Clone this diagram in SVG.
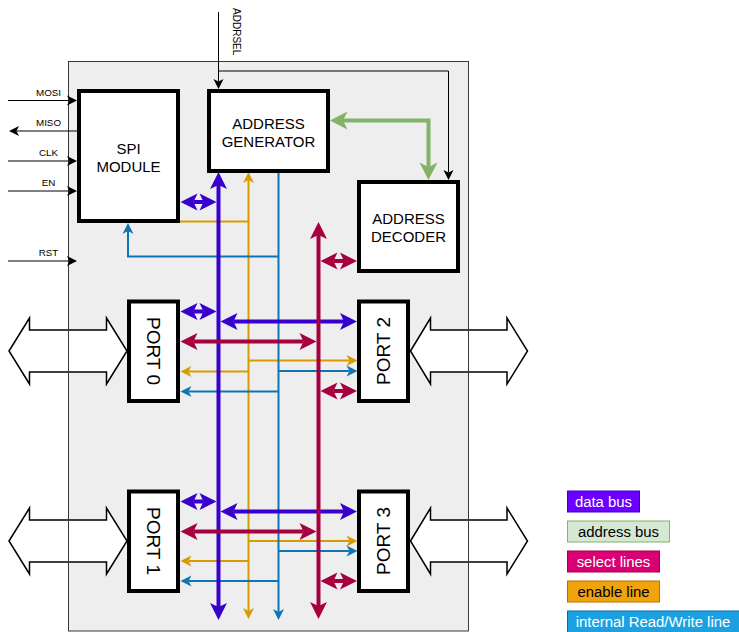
<svg xmlns="http://www.w3.org/2000/svg" width="739" height="632" viewBox="0 0 739 632">
<style>
text{font-family:"Liberation Sans",Arial,sans-serif;fill:#000}
.node{fill:#fff;stroke:#000;stroke-width:4}
.nt{font-size:15px;text-anchor:middle}
.pt{font-size:19px;text-anchor:middle}
.sm{font-size:9.8px;text-anchor:middle}
.big{fill:#fff;stroke:#000;stroke-width:1.5;stroke-linejoin:miter}
.c{fill:none}
.data{stroke:#3700CC;stroke-width:4;marker-end:url(#mP);}
.sel{stroke:#A50040;stroke-width:4;marker-end:url(#mS);}
.en{stroke:#d79b00;stroke-width:2;marker-end:url(#mO);}
.rw{stroke:#0f74b5;stroke-width:2;marker-end:url(#mB);}
.blk{stroke:#000;stroke-width:1;marker-end:url(#mK);}
.lg{font-size:14.9px;text-anchor:middle}
</style>
<defs>
<marker id="mP" markerUnits="userSpaceOnUse" orient="auto-start-reverse" overflow="visible" markerWidth="20" markerHeight="20" refX="0" refY="0"><path d="M13,0 L-4,-8.5 L0,0 L-4,8.5 Z" fill="#3700CC"/></marker>
<marker id="mS" markerUnits="userSpaceOnUse" orient="auto-start-reverse" overflow="visible" markerWidth="20" markerHeight="20" refX="0" refY="0"><path d="M13,0 L-4,-8.5 L0,0 L-4,8.5 Z" fill="#A50040"/></marker>
<marker id="mG" markerUnits="userSpaceOnUse" orient="auto-start-reverse" overflow="visible" markerWidth="20" markerHeight="20" refX="0" refY="0"><path d="M13,0 L-4.5,-9 L0,0 L-4.5,9 Z" fill="#82b366"/></marker>
<marker id="mO" markerUnits="userSpaceOnUse" orient="auto-start-reverse" overflow="visible" markerWidth="12" markerHeight="12" refX="0" refY="0"><path d="M8,0 L-3,-5.5 L0,0 L-3,5.5 Z" fill="#d79b00"/></marker>
<marker id="mB" markerUnits="userSpaceOnUse" orient="auto-start-reverse" overflow="visible" markerWidth="12" markerHeight="12" refX="0" refY="0"><path d="M8,0 L-3,-5.5 L0,0 L-3,5.5 Z" fill="#0f74b5"/></marker>
<marker id="mK" markerUnits="userSpaceOnUse" orient="auto-start-reverse" overflow="visible" markerWidth="12" markerHeight="12" refX="0" refY="0"><path d="M7.5,0 L-2.5,-5 L0,0 L-2.5,5 Z" fill="#000"/></marker>
</defs>

<g id="container"><rect x="68.5" y="61.5" width="400" height="569.5" fill="#eeeeee"/></g>

<g id="ext-arrows">
<path id="ext-port0" class="big" d="M9,351 L29.5,318 V330 H106.5 V318 L127,351 L106.5,384 V372 H29.5 V384 Z"/>
<path id="ext-port1" class="big" d="M9,541 L29.5,508 V520 H106.5 V508 L127,541 L106.5,574 V562 H29.5 V574 Z"/>
<path id="ext-port2" class="big" d="M410.5,351 L430.5,318 V330 H507 V318 L527.5,351 L507,384 V372 H430.5 V384 Z"/>
<path id="ext-port3" class="big" d="M410.5,541 L430.5,508 V520 H507 V508 L527.5,541 L507,574 V562 H430.5 V574 Z"/>
</g>
<rect id="container-border" x="68.5" y="61.5" width="400" height="569.5" fill="none" stroke="#36393d" stroke-width="1"/>

<g id="connectors" class="c">
<path class="c blk" d="M218.5,12 V81.5"/>
<path class="c blk" d="M218.5,71 H448.5 V172.5"/>
<path class="c blk" d="M8,100.5 H69.5"/>
<path class="c blk" d="M77,131 H16.5"/>
<path class="c blk" d="M8,161 H69.5"/>
<path class="c blk" d="M8,191 H69.5"/>
<path class="c blk" d="M8,261 H69.5"/>
<path class="c" d="M428.5,167 V120.5 H343" stroke="#82b366" stroke-width="4" marker-start="url(#mG)" marker-end="url(#mG)"/>
<path class="c en" d="M248.5,180 V611" marker-start="url(#mO)"/>
<path class="c" d="M180,221.5 H248.5" stroke="#d79b00" stroke-width="2"/>
<path class="c en" d="M248.5,371.5 H188.5"/>
<path class="c en" d="M248.5,360.5 H349.5"/>
<path class="c en" d="M248.5,541 H349.5"/>
<path class="c en" d="M248.5,561 H188.5"/>
<path class="c rw" d="M278.5,171 V612"/>
<path class="c rw" d="M278.5,256.5 H128 V231"/>
<path class="c rw" d="M278.5,391.5 H188.5"/>
<path class="c rw" d="M278.5,371 H349.5"/>
<path class="c rw" d="M278.5,581 H188.5"/>
<path class="c rw" d="M278.5,551 H349.5"/>
<path class="c data" d="M218.5,185 V607" marker-start="url(#mP)"/>
<path class="c data" d="M193.5,202 H203.5" marker-start="url(#mP)"/>
<path class="c data" d="M193.5,311.5 H203.5" marker-start="url(#mP)"/>
<path class="c data" d="M233.5,321.5 H344" marker-start="url(#mP)"/>
<path class="c data" d="M193.5,501.5 H203.5" marker-start="url(#mP)"/>
<path class="c data" d="M233.5,511.5 H344" marker-start="url(#mP)"/>
<path class="c sel" d="M318.5,235 V606" marker-start="url(#mS)"/>
<path class="c sel" d="M333.5,261 H344" marker-start="url(#mS)"/>
<path class="c sel" d="M193.5,341.5 H303.5" marker-start="url(#mS)"/>
<path class="c sel" d="M333.5,391 H344" marker-start="url(#mS)"/>
<path class="c sel" d="M193.5,531.5 H303.5" marker-start="url(#mS)"/>
<path class="c sel" d="M333.5,581 H344" marker-start="url(#mS)"/>
</g>

<g id="signal-labels">
<text class="sm" x="48.5" y="95.5">MOSI</text>
<text class="sm" x="48.5" y="126">MISO</text>
<text class="sm" x="48.5" y="156">CLK</text>
<text class="sm" x="48.5" y="186">EN</text>
<text class="sm" x="48.5" y="255.5">RST</text>
<text class="sm" style="font-size:10px" x="236.5" y="31.7" dy="3.5" transform="rotate(90 236.5 31.7)">ADDRSEL</text>
</g>

<g id="spi-module">
<rect class="node" x="79" y="91" width="99" height="130"/>
<text class="nt" x="128.5" y="153.5">SPI</text>
<text class="nt" x="128.5" y="171.5">MODULE</text>
</g>
<g id="address-generator">
<rect class="node" x="209" y="91" width="119" height="80"/>
<text class="nt" x="268.5" y="128.5">ADDRESS</text>
<text class="nt" x="268.5" y="146.5">GENERATOR</text>
</g>
<g id="address-decoder">
<rect class="node" x="359" y="182" width="99" height="89"/>
<text class="nt" x="408.5" y="223.5">ADDRESS</text>
<text class="nt" x="408.5" y="241.5">DECODER</text>
</g>
<g id="port0">
<rect class="node" x="129" y="301.5" width="49" height="99.5"/>
<text class="pt" x="153.5" y="351" dy="6.8" transform="rotate(90 153.5 351)">PORT 0</text>
</g>
<g id="port1">
<rect class="node" x="129" y="491.5" width="49" height="99.5"/>
<text class="pt" x="153.5" y="541" dy="6.8" transform="rotate(90 153.5 541)">PORT 1</text>
</g>
<g id="port2">
<rect class="node" x="359" y="301.5" width="49" height="99.5"/>
<text class="pt" x="383.5" y="351" dy="6.8" transform="rotate(-90 383.5 351)">PORT 2</text>
</g>
<g id="port3">
<rect class="node" x="359" y="491.5" width="49" height="99.5"/>
<text class="pt" x="383.5" y="541" dy="6.8" transform="rotate(-90 383.5 541)">PORT 3</text>
</g>

<g id="legend">
<g id="legend-data"><rect x="567.5" y="491" width="72" height="21" fill="#6a00ff" stroke="#3700CC"/><text class="lg" x="603.5" y="506.5" style="fill:#fff">data bus</text></g>
<g id="legend-address"><rect x="567.5" y="521" width="102" height="21" fill="#d5e8d4" stroke="#82b366"/><text class="lg" x="618.5" y="536.5">address bus</text></g>
<g id="legend-select"><rect x="567.5" y="551" width="92" height="21" fill="#d80073" stroke="#A50040"/><text class="lg" x="613.5" y="566.5" style="fill:#fff">select lines</text></g>
<g id="legend-enable"><rect x="567.5" y="581" width="92" height="21" fill="#f0a30a" stroke="#BD7000"/><text class="lg" x="613.5" y="596.5">enable line</text></g>
<g id="legend-rw"><rect x="567.5" y="611" width="172" height="22" fill="#1ba1e2" stroke="#006EAF"/><text class="lg" x="653" y="626.5" style="fill:#fff">internal Read/Write line</text></g>
</g>
</svg>
